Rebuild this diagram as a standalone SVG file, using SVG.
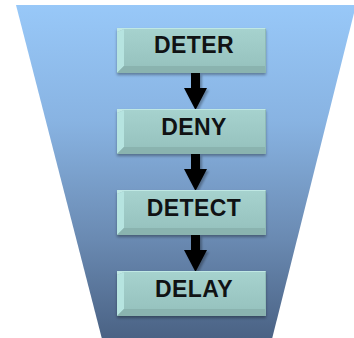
<svg xmlns="http://www.w3.org/2000/svg" xmlns:xlink="http://www.w3.org/1999/xlink" width="354" height="338" viewBox="0 0 354 338">
  <style>
    .label { font-family: "Liberation Sans", Arial, sans-serif; font-weight: bold; font-size: 23px; letter-spacing: 0.4px; fill: #101214; text-anchor: middle; }
    .arrow { fill: #050505; filter: url(#arrowShadow); }
  </style>
  <defs>
    <linearGradient id="funnelFill" x1="0" y1="0" x2="0" y2="1">
      <stop offset="0" stop-color="#98c8f8"/>
      <stop offset="0.35" stop-color="#88b3e2"/>
      <stop offset="0.7" stop-color="#6a8ab2"/>
      <stop offset="1" stop-color="#4a6284"/>
    </linearGradient>
    <linearGradient id="faceFill" x1="0" y1="0" x2="0" y2="1">
      <stop offset="0" stop-color="#a6d2ce"/>
      <stop offset="1" stop-color="#97c3bf"/>
    </linearGradient>
    <filter id="boxShadow" x="-10%" y="-20%" width="120%" height="150%">
      <feGaussianBlur in="SourceAlpha" stdDeviation="1.5"/>
      <feOffset dx="0" dy="2" result="b"/>
      <feComponentTransfer><feFuncA type="linear" slope="0.35"/></feComponentTransfer>
      <feMerge><feMergeNode/><feMergeNode in="SourceGraphic"/></feMerge>
    </filter>
    <filter id="arrowShadow" x="-30%" y="-20%" width="160%" height="150%">
      <feGaussianBlur in="SourceAlpha" stdDeviation="1.2"/>
      <feOffset dx="1.5" dy="1.5" result="b"/>
      <feComponentTransfer><feFuncA type="linear" slope="0.3"/></feComponentTransfer>
      <feMerge><feMergeNode/><feMergeNode in="SourceGraphic"/></feMerge>
    </filter>
    <!-- bevelled block: face, light left edge, darker bottom edge -->
    <g id="block">
      <g filter="url(#boxShadow)">
        <rect x="117" y="0" width="149" height="45" fill="#8fbab6"/>
        <rect x="124" y="1" width="141" height="37" fill="url(#faceFill)"/>
        <polygon points="117,4 124,1 124,38 117,45" fill="#b6e4e0"/>
        <polygon points="117,45 124,38 265,38 266,45" fill="#8ab3af"/>
        <polygon points="117,0 266,0 265,1 124,1 117,4" fill="#c0e8e4"/>
      </g>
    </g>
    <!-- down arrow, 37 tall, starting at y=0 -->
    <path id="downArrow" d="M191,0 H200 V15 H207 L195.5,37 L184,15 H191 Z"/>
  </defs>

  <rect width="354" height="338" fill="#ffffff"/>

  <!-- funnel backdrop -->
  <polygon points="16,5 356,5 272,339 102,339" fill="url(#funnelFill)"/>

  <g id="connectors">
    <use xlink:href="#downArrow" class="arrow" transform="translate(0,73)"/>
    <use xlink:href="#downArrow" class="arrow" transform="translate(0,154)"/>
    <use xlink:href="#downArrow" class="arrow" transform="translate(0,235)"/>
  </g>

  <g id="deter" transform="translate(0,28)">
    <use xlink:href="#block"/>
    <text class="label" x="194" y="25">DETER</text>
  </g>
  <g id="deny" transform="translate(0,109)">
    <use xlink:href="#block"/>
    <text class="label" x="194" y="26">DENY</text>
  </g>
  <g id="detect" transform="translate(0,190)">
    <use xlink:href="#block"/>
    <text class="label" x="194" y="25.5">DETECT</text>
  </g>
  <g id="delay" transform="translate(0,271)">
    <use xlink:href="#block"/>
    <text class="label" x="194" y="25.5">DELAY</text>
  </g>
</svg>
